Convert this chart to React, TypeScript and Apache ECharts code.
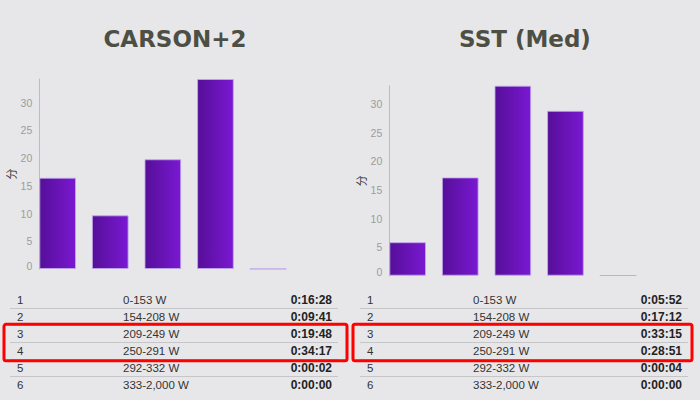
import React, { useEffect, useRef } from "react";
import * as echarts from "echarts";

const zones = ["1", "2", "3", "4", "5", "6"];
const ranges = ["0-153 W", "154-208 W", "209-249 W", "250-291 W", "292-332 W", "333-2,000 W"];
const carsonTimes = ["0:16:28", "0:09:41", "0:19:48", "0:34:17", "0:00:02", "0:00:00"];
const sstTimes = ["0:05:52", "0:17:12", "0:33:15", "0:28:51", "0:00:04", "0:00:00"];
const titles = ["CARSON+2", "SST (Med)"];
const highlightedZones = ["3", "4"];

const toMinutes = (t: string) => {
  const [h, m, s] = t.split(":").map(Number);
  return h * 60 + m + s / 60;
};

const BG = "#e7e7e9";
const PANEL_W = 350;
const TEXT_FONT = "'Liberation Sans', Arial, sans-serif";

export default function App() {
  const ref = useRef<HTMLDivElement>(null);

  useEffect(() => {
    if (!ref.current) return;
    const chart = echarts.init(ref.current, null, { renderer: "svg" });

    const barGradient = new echarts.graphic.LinearGradient(0, 0, 1, 0, [
      { offset: 0, color: "#560f98" },
      { offset: 1, color: "#7a18d2" },
    ]);

    const panels = [carsonTimes, sstTimes];
    const gridTops = [79, 85.7];
    const gridHeight = 190;
    const bandW = 52.6;
    const barW = 36.7;
    const axisX0 = 39.3;
    const half = (bandW - barW) / 2;

    const grids: any[] = [];
    const xAxes: any[] = [];
    const yAxes: any[] = [];
    const series: any[] = [];
    const graphics: any[] = [];

    panels.forEach((times, p) => {
      const ox = p * PANEL_W;
      grids.push({
        left: ox + axisX0 - half,
        top: gridTops[p],
        width: bandW * zones.length,
        height: gridHeight,
        containLabel: false,
      });
      xAxes.push({
        type: "category",
        gridIndex: p,
        data: zones,
        axisLine: { show: false },
        axisTick: { show: false },
        axisLabel: { show: false },
        splitLine: { show: false },
      });
      yAxes.push({
        type: "value",
        gridIndex: p,
        min: 0,
        max: "dataMax",
        interval: 5,
        offset: -half,
        name: "分",
        nameLocation: "middle",
        nameGap: 22,
        nameTextStyle: {
          color: "#333",
          fontSize: 11,
          fontFamily: "'Noto Sans CJK SC', sans-serif",
        },
        axisLine: { show: true, lineStyle: { color: "#bdbdbd", width: 1 } },
        axisTick: { show: false },
        splitLine: { show: false },
        axisLabel: {
          color: "#9c9c9c",
          fontSize: 10.5,
          fontFamily: TEXT_FONT,
          margin: 7,
          showMaxLabel: false,
          formatter: (v: number) => (v === 0 ? "{z|0}" : String(v)),
          rich: {
            z: { color: "#9c9c9c", fontSize: 10.5, fontFamily: TEXT_FONT, padding: [0, 0, 7, 0] },
          },
        },
      });
      series.push({
        type: "bar",
        xAxisIndex: p,
        yAxisIndex: p,
        barWidth: barW,
        data: times.map((t) => {
          const v = toMinutes(t);
          return v === 0
            ? { value: v, itemStyle: { borderWidth: 0, opacity: 0 } }
            : { value: v };
        }),
        itemStyle: {
          color: barGradient,
          borderColor: "rgba(190,168,236,0.85)",
          borderWidth: 1,
        },
      });

      // title
      graphics.push({
        type: "text",
        x: ox + 175,
        y: 39,
        style: {
          text: titles[p],
          font: "bold 23px 'DejaVu Sans', Verdana, sans-serif",
          fill: "#4d4f44",
          align: "center",
          verticalAlign: "middle",
          textAlign: "center",
          textVerticalAlign: "middle",
        },
      });

      // table
      const rowY0 = 300;
      const rowH = 16.9;
      zones.forEach((z, i) => {
        const cy = rowY0 + i * rowH;
        graphics.push({
          type: "text",
          x: ox + 17,
          y: cy,
          style: {
            text: z,
            font: `11.5px ${TEXT_FONT}`,
            fill: "#333",
            align: "left",
            verticalAlign: "middle",
            textAlign: "left",
            textVerticalAlign: "middle",
          },
        });
        graphics.push({
          type: "text",
          x: ox + 123,
          y: cy,
          style: {
            text: ranges[i],
            font: `11.5px ${TEXT_FONT}`,
            fill: "#333",
            align: "left",
            verticalAlign: "middle",
            textAlign: "left",
            textVerticalAlign: "middle",
          },
        });
        graphics.push({
          type: "text",
          x: ox + 332,
          y: cy,
          style: {
            text: times[i],
            font: `bold 12px ${TEXT_FONT}`,
            fill: "#222",
            align: "right",
            verticalAlign: "middle",
            textAlign: "right",
            textVerticalAlign: "middle",
          },
        });
        if (i < zones.length - 1) {
          const ly = Math.round(cy + rowH / 2) + 0.5;
          graphics.push({
            type: "line",
            shape: { x1: ox + 10, y1: ly, x2: ox + 338, y2: ly },
            style: { stroke: "#c6c6c8", lineWidth: 1 },
          });
        }
      });

      // highlight box
      const firstIdx = zones.indexOf(highlightedZones[0]);
      const lastIdx = zones.indexOf(highlightedZones[highlightedZones.length - 1]);
      const boxTop = rowY0 + firstIdx * rowH - rowH / 2 - 1;
      const boxBottom = rowY0 + lastIdx * rowH + rowH / 2 + 1.5;
      const boxX = p === 0 ? 4 : ox + 3;
      const boxW = p === 0 ? 343 : 339;
      graphics.push({
        type: "rect",
        shape: { x: boxX, y: boxTop, width: boxW, height: boxBottom - boxTop, r: 2 },
        style: { fill: "none", stroke: "#ff0000", lineWidth: 3 },
        z: 10,
      });
    });

    chart.setOption({
      animation: false,
      backgroundColor: BG,
      grid: grids,
      xAxis: xAxes,
      yAxis: yAxes,
      series,
      graphic: graphics,
    });

    return () => chart.dispose();
  }, []);

  return (
    <div
      ref={ref}
      style={{ position: "fixed", left: 0, top: 0, width: 700, height: 400, background: BG }}
    />
  );
}
